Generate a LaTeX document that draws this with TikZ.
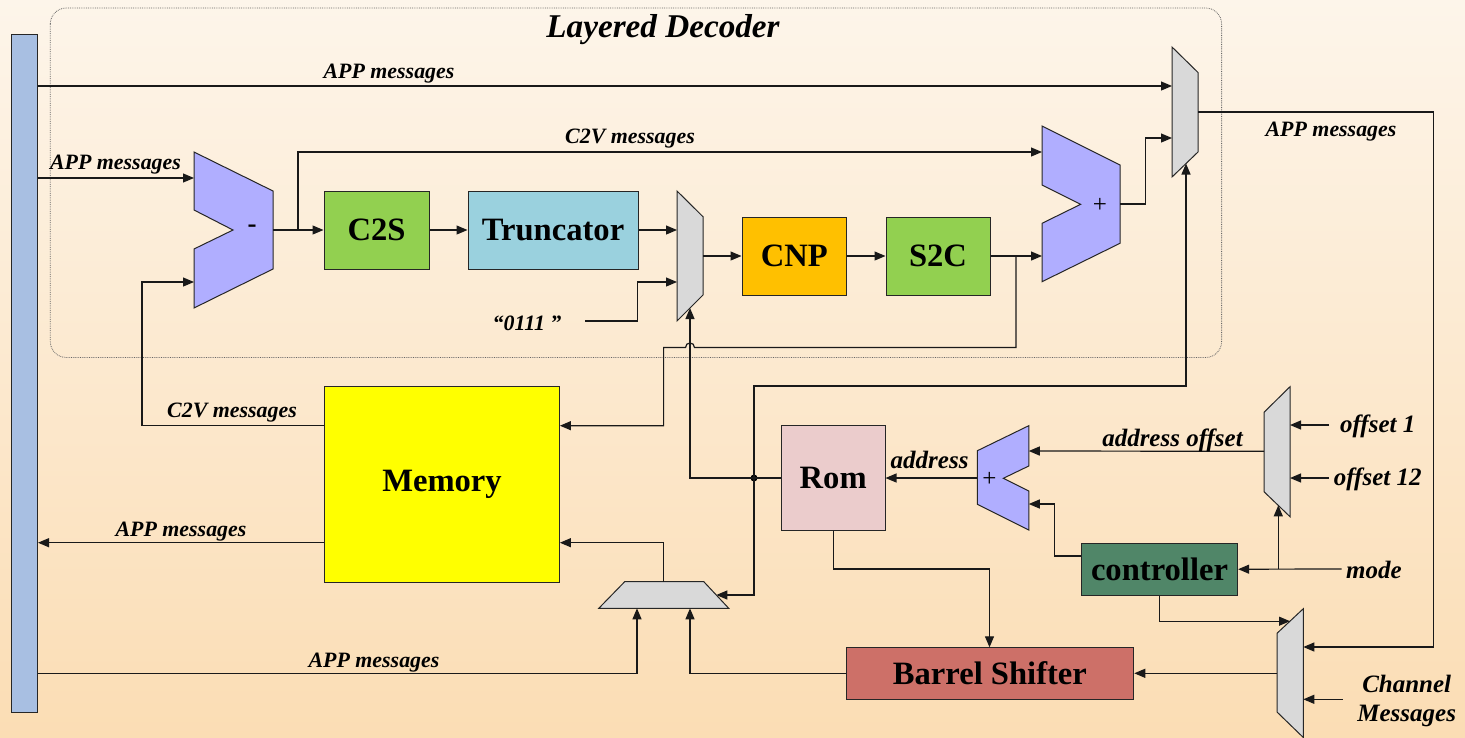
\documentclass[tikz,border=0pt]{standalone}
\usepackage{fontspec}
\setmainfont{Liberation Serif}
\usetikzlibrary{arrows.meta}
\definecolor{bgtop}{RGB}{253,245,234}
\definecolor{bgmid}{RGB}{252,234,210}
\definecolor{bgbot}{RGB}{251,221,180}
\definecolor{barblue}{RGB}{168,191,226}
\definecolor{purp}{RGB}{176,174,255}
\definecolor{muxgray}{RGB}{217,217,217}
\definecolor{green1}{RGB}{146,208,80}
\definecolor{trunc}{RGB}{154,209,222}
\definecolor{cnp}{RGB}{255,192,0}
\definecolor{memy}{RGB}{255,255,0}
\definecolor{rom}{RGB}{235,204,204}
\definecolor{ctrl}{RGB}{80,134,104}
\definecolor{barrel}{RGB}{205,112,104}
\tikzset{
  blk/.style={draw=black!85, line width=1pt, inner sep=0pt,
    font=\fontsize{32.6}{36}\selectfont\bfseries},
  shp/.style={draw=black!85, line width=1pt, line join=miter},
  lab/.style={inner sep=0pt, font=\fontsize{21.9}{24}\selectfont\bfseries\itshape},
  labr/.style={inner sep=0pt, font=\fontsize{25}{28}\selectfont\bfseries\itshape},
  wire/.style={line width=1.2pt, draw=black!90},
  conn/.style={wire, -{Triangle[length=11pt,width=9pt]}}
}
\begin{document}
\begin{tikzpicture}[x=1pt,y=-1pt]
\useasboundingbox (0,0) rectangle (1465,737);
\shade[top color=bgtop, middle color=bgmid, bottom color=bgbot] (0,0) rectangle (1465,737);

% Layered decoder frame
\draw[gray!80!black, densely dotted, line width=0.8pt, rounded corners=16pt] (50.3,8) rectangle (1221.6,357.5);
\node[inner sep=0pt, font=\fontsize{33.2}{36}\selectfont\bfseries\itshape] (title) at (663,30) {Layered Decoder};

% left bar
\node[draw=black!85, line width=1pt, fill=barblue, minimum width=26.5pt, minimum height=678pt, inner sep=0pt] (bar) at (24.25,373) {};

% boxes
\node[blk, fill=green1, minimum width=105pt, minimum height=78pt] (c2s) at (376.5,230) {C2S};
\node[blk, fill=trunc, minimum width=170pt, minimum height=78pt] (trunc) at (553,230) {Truncator};
\node[blk, fill=cnp, minimum width=104.6pt, minimum height=78pt] (cnp) at (794.3,256) {CNP};
\node[blk, fill=green1, minimum width=104pt, minimum height=78pt] (s2c) at (938,256) {S2C};
\node[blk, fill=memy, minimum width=234.8pt, minimum height=195.7pt] (mem) at (442,484.2) {Memory};
\node[blk, fill=rom, minimum width=103.6pt, minimum height=104.3pt] (rom) at (833.2,477.9) {Rom};
\node[blk, fill=ctrl, minimum width=156.3pt, minimum height=52.3pt] (ctrl) at (1159.5,569.2) {controller};
\node[blk, fill=barrel, minimum width=287.7pt, minimum height=52pt] (bs) at (989.9,673.3) {Barrel Shifter};

% subtractor
\draw[shp, fill=purp] (194,152) -- (273,191) -- (273,269) -- (194,308) -- (194,249) -- (233,230) -- (194,210) -- cycle;
\node[inner sep=0pt, font=\fontsize{27}{28}\selectfont\bfseries] (minus) at (252,229) {-};
\coordinate (subA) at (194,178);
\coordinate (subB) at (194,282);
\coordinate (subO) at (273,230);

% adder
\draw[shp, fill=purp] (1042,126) -- (1120,165) -- (1120,243.3) -- (1042,281.7) -- (1042,223.3) -- (1080.7,204.3) -- (1042,185) -- cycle;
\node[inner sep=0pt, font=\fontsize{25}{28}\selectfont] (plus) at (1100,205) {+};
\coordinate (addA) at (1042,152);
\coordinate (addB) at (1042,256);
\coordinate (addO) at (1120,204);

% top mux
\draw[shp, fill=muxgray] (1172,47) -- (1198,72.5) -- (1198,152) -- (1172,177) -- cycle;
\coordinate (mtopA) at (1172,86);
\coordinate (mtopB) at (1172,138);
\coordinate (mtopO) at (1198,112);
\coordinate (mtopS) at (1186,163.5);

% mux 2
\draw[shp, fill=muxgray] (677,191) -- (703,216.7) -- (703,295) -- (677,321) -- cycle;
\coordinate (m2A) at (677,230);
\coordinate (m2B) at (677,282);
\coordinate (m2O) at (703,256);
\coordinate (m2S) at (690,308);

% offset mux
\draw[shp, fill=muxgray] (1290,386.7) -- (1290,516.7) -- (1264,491.7) -- (1264,412.3) -- cycle;
\coordinate (moffA) at (1290,425);
\coordinate (moffB) at (1290,478);
\coordinate (moffO) at (1264,451.3);
\coordinate (moffS) at (1278.3,505.3);

% channel mux
\draw[shp, fill=muxgray] (1303.3,608.7) -- (1303.3,737.5) -- (1277,712) -- (1277,633.3) -- cycle;
\coordinate (mchA) at (1303.3,647);
\coordinate (mchB) at (1303.3,699.3);
\coordinate (mchO) at (1277,673.3);
\coordinate (mchS) at (1290,621.2);

% bottom mux
\draw[shp, fill=muxgray] (624.7,581.7) -- (703.8,581.7) -- (728.75,608.3) -- (598.8,608.3) -- cycle;
\coordinate (mbotA) at (637,608.3);
\coordinate (mbotB) at (690,608.3);
\coordinate (mbotO) at (663.8,581.7);
\coordinate (mbotS) at (716.3,595);

% address adder
\draw[shp, fill=purp] (1028.75,425.7) -- (1028.75,466) -- (1003.3,478.3) -- (1028.75,491) -- (1028.75,530) -- (977.4,504.3) -- (977.4,450.7) -- cycle;
\node[inner sep=0pt, font=\fontsize{25}{28}\selectfont] (aplus) at (989.5,479) {+};
\coordinate (aaddA) at (1028.75,451);
\coordinate (aaddB) at (1028.75,504);
\coordinate (aaddO) at (977.4,478);

% junction
\coordinate (jn) at (754,478);
\fill (jn) circle (3.5pt);

% ---------- connectors ----------
\draw[conn] (bar.east |- mtopA) -- (mtopA);
\node[lab] (l1) at (389,74) {APP messages};

\draw[conn] (bar.east |- subA) -- (subA);
\node[lab] (l2) at (115.5,165) {APP messages};

\draw[conn] ([yshift=58.5pt]mem.west) -- (142,425.7) -- (142,282) -- (subB);
\node[lab] (l3) at (232,413) {C2V messages};

\draw[conn] (subO) -- (c2s.west);
\draw[conn] (298,230) -- (298,152) -- (addA);
\node[lab] (l4) at (630,139) {C2V messages};

\draw[conn] (c2s.east) -- (trunc.west);
\draw[conn] (trunc.east) -- (m2A);

\node[lab] (l0111) at (527,323) {“0111 ”};
\draw[conn] (585,321) -- (637.5,321) -- (637.5,282) -- (m2B);

\draw[conn] (m2O) -- (cnp.west);
\draw[conn] (cnp.east) -- (s2c.west);
\draw[conn] (s2c.east) -- (addB);

\draw[conn] (1016,256) -- (1016,347.5) -- (694.5,347.5) .. controls (694.5,341.5) and (685.5,341.5) .. (685.5,347.5) -- (663.6,347.5) -- (663.6,425.7) -- ([yshift=58.5pt]mem.east);

\draw[conn] (addO) -- (1145.5,204) -- (1145.5,138) -- (mtopB);

\draw[conn] (mtopO) -- (1433.5,112) -- (1433.5,647) -- (mchA);
\node[lab] (l5) at (1331,132) {APP messages};

\draw[wire] (rom.west |- jn) -- (jn);
\draw[conn] (jn) -- (690,478) -- (m2S);
\draw[conn] (jn) -- (754,386) -- (1186,386) -- (mtopS);
\draw[conn] (jn) -- (754,595) -- (mbotS);

\draw[conn] (mbotO) -- (663.8,542.7) -- ([yshift=-58.5pt]mem.east);
\draw[conn] ([yshift=-58.5pt]mem.west) -- (bar.east |- 0,542.7);
\node[lab] (l6) at (181,531.7) {APP messages};

\draw[conn] (bar.east |- 0,673.3) -- (637,673.3) -- (mbotA);
\node[lab] (l7) at (374,662.7) {APP messages};

\draw[conn] (bs.west) -- (690,673.3) -- (mbotB);

\draw[conn] (rom.south) -- (833.2,569) -- (989.5,569) -- (989.5,647.3);

\draw[conn] (aaddO) -- (rom.east |- aaddO);
\node[labr] (l8) at (929.6,460) {address};

\draw[conn] (moffO) -- (aaddA);
\node[labr] (l9) at (1172.5,440) {address offset};

\draw[conn] (ctrl.west |- 0,556) -- (1054.6,556) -- (1054.6,504) -- (aaddB);

\draw[conn] (1329,425) -- (moffA);
\node[labr] (l10) at (1377.7,426.5) {offset 1};
\draw[conn] (1329,478) -- (moffB);
\node[labr] (l11) at (1377.7,479) {offset 12};

\draw[conn] (1341.7,569) -- (ctrl.east);
\draw[conn] (1278.3,569) -- (moffS);
\node[labr] (l12) at (1374,570) {mode};

\draw[conn] (ctrl.south -| 1159.3,0) -- (1159.3,621.2) -- (mchS);

\draw[conn] (mchO) -- (bs.east);

\draw[conn] (1342.7,699.3) -- (mchB);
\node[labr] (l13) at (1406.7,684.3) {Channel};
\node[labr] (l14) at (1406.7,716) {Messages};
\end{tikzpicture}
\end{document}
